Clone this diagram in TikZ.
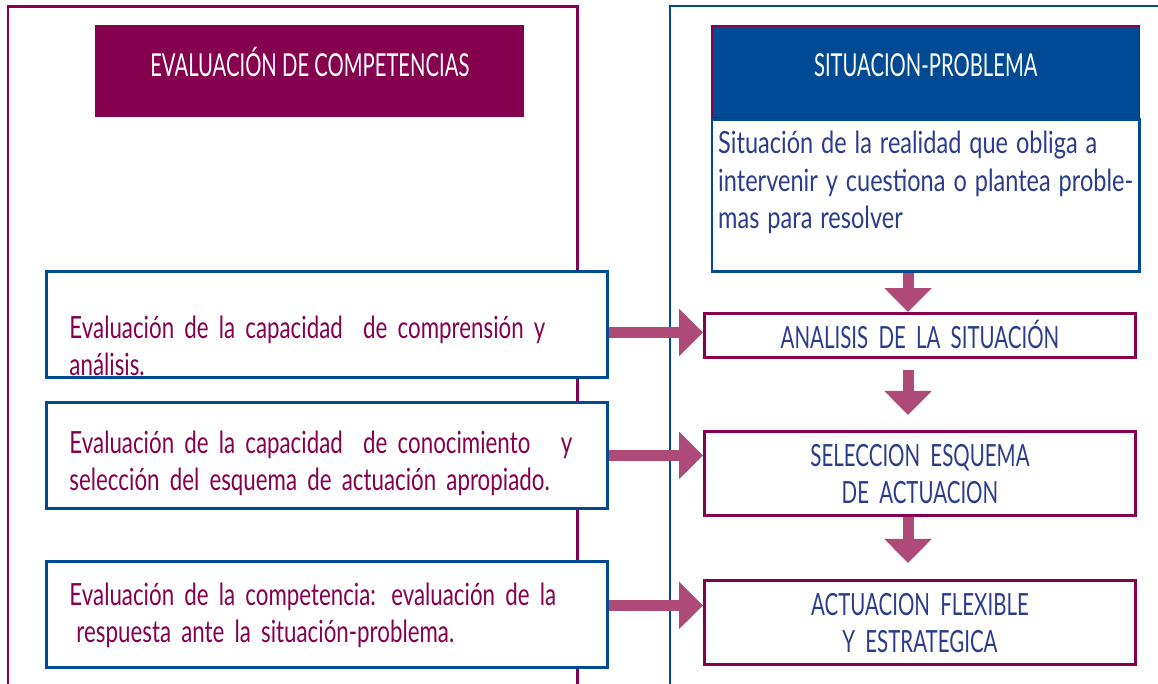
\documentclass[tikz,border=0pt]{standalone}
\usepackage{fontspec}
\setmainfont{Lato}[FakeStretch=0.73]
\newfontfamily\descfam{Lato}[FakeStretch=0.77]
\newfontfamily\headfam{Lato}[FakeStretch=0.64]
\newfontfamily\capsfam{Lato}[FakeStretch=0.67]
\usetikzlibrary{arrows.meta,positioning}
\definecolor{plum}{HTML}{85004F}
\definecolor{navy}{HTML}{004A93}
\definecolor{inkblue}{HTML}{2B3C8C}
\definecolor{arrowpink}{HTML}{AD4A77}
\newcommand{\boxfont}{\fontsize{17.4}{21.3}\selectfont}
\newcommand{\descfont}{\descfam\fontsize{17.4}{21.3}\selectfont\spaceskip=0.26em\relax}
\newcommand{\headfont}{\headfam\fontsize{18}{21.3}\selectfont}
\newcommand{\capsfont}{\capsfam\fontsize{17.4}{21.3}\selectfont}

\begin{document}
\begin{tikzpicture}[x=0.02cm,y=-0.02cm,
    every node/.style={inner ysep=0pt},
    headbox/.style={minimum width=8.58cm,text height=1.02cm,text depth=0.82cm,
      text=white,font=\headfont,anchor=north west},
    leftbox/.style={draw=navy,line width=0.06cm,fill=white,text=plum,font=\boxfont,
      inner xsep=0.46cm,text width=10.3cm,align=left},
    stepbox/.style={draw=plum,line width=0.06cm,fill=white,text=inkblue,font=\capsfont,
      minimum width=8.62cm,text width=8.0cm,align=center,text height=0.70cm,text depth=0.98cm}]
  \tikzstyle{fatarrow}=[-{Triangle[width=0.92cm,length=0.48cm]},line width=0.22cm,draw=arrowpink]
  \useasboundingbox (0,0) rectangle (1158,683);
  % Panels
  \draw[plum,line width=0.06cm] (8,700) -- (8,6) -- (577,6) -- (577,700);
  \draw[navy,line width=0.04cm] (670,700) -- (670,6) -- (1170,6);
  % Headers
  \node[headbox,fill=plum] (evalhead) at (95,25) {EVALUACIÓN DE COMPETENCIAS};
  \node[headbox,fill=navy,draw=plum,line width=0.03cm,minimum width=8.56cm] (sithead) at (711,25) {SITUACION-PROBLEMA};
  \node[draw=navy,line width=0.05cm,fill=white,text=inkblue,font=\descfont,
    minimum width=8.56cm,align=left,text height=2.18cm,text depth=0.86cm]
    (desc) [below=0pt of sithead] {Situación de la realidad que obliga a\\
    intervenir y cuestiona o plantea proble-\\mas para resolver};
  % Evaluation boxes
  \node[leftbox,anchor=north west,text height=1.34cm,text depth=0.78cm] (evalone) at (45,270)
    {Evaluación de la capacidad~ de comprensión y\\análisis.};
  \node[leftbox,text height=1.02cm,text depth=1.10cm] (evaltwo) [below=0.44cm of evalone]
    {Evaluación de la capacidad~ de conocimiento~~ y\\selección del esquema de actuación apropiado.};
  \node[leftbox,text height=0.88cm,text depth=1.24cm] (evalthree) [below=1.0cm of evaltwo]
    {Evaluación de la competencia: evaluación de la\\\hspace*{0.14cm}respuesta ante la situación-problema.};
  % Steps
  \node[stepbox,anchor=north west,text depth=0.18cm] (analysis) at (703,312) {ANALISIS DE LA SITUACIÓN};
  \node[stepbox] (scheme) [below=1.42cm of analysis] {SELECCION ESQUEMA\\DE ACTUACION};
  \node[stepbox] (action) [below=1.24cm of scheme] {ACTUACION FLEXIBLE\\Y ESTRATEGICA};
  % Arrows
  \coordinate (axis) at (908,0);
  \draw[fatarrow] (desc.south -| axis) -- (analysis.north -| axis);
  \draw[fatarrow,shorten <=0.22cm,shorten >=0.30cm] (analysis.south -| axis) -- (scheme.north -| axis);
  \draw[fatarrow,shorten >=0.32cm] (scheme.south -| axis) -- (action.north -| axis);
  \draw[fatarrow] ([yshift=-0.16cm]evalone.east) -- ([yshift=-0.16cm]evalone.east -| analysis.west);
  \draw[fatarrow] (evaltwo.east) -- (evaltwo.east -| scheme.west);
  \draw[fatarrow] ([yshift=0.18cm]evalthree.east) -- ([yshift=0.18cm]evalthree.east -| action.west);
\end{tikzpicture}
\end{document}
